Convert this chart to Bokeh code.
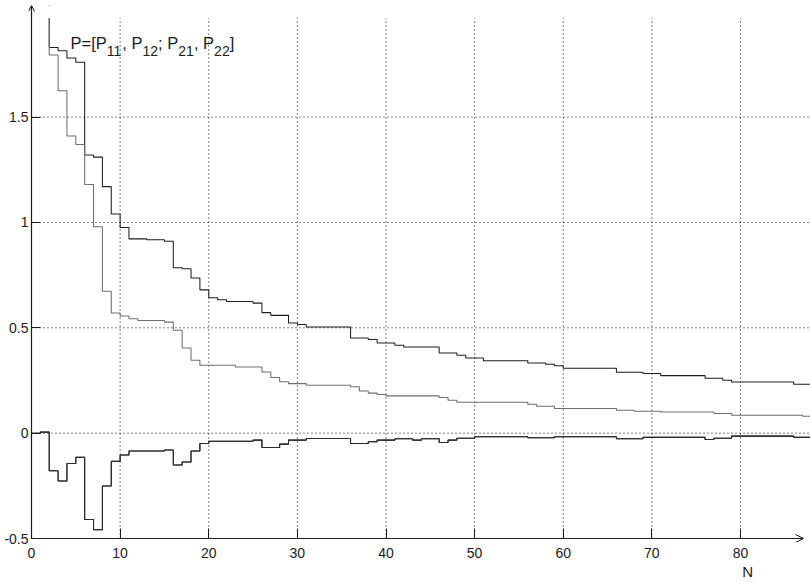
from bokeh.plotting import figure
from bokeh.models import Range1d, FixedTicker, Arrow, OpenHead, Label, LinearAxis
from bokeh.embed import file_html
from bokeh.resources import INLINE

# ---------------- data ----------------
n_from0 = list(range(0, 89))
n_from1 = list(range(1, 89))

p11 = [2.40, 1.83, 1.815, 1.78, 1.76, 1.32, 1.31, 1.17, 1.04, 0.976,
       0.922, 0.922, 0.918, 0.918, 0.911, 0.785, 0.78, 0.736, 0.68, 0.643,
       0.633, 0.625, 0.625, 0.625, 0.617, 0.572, 0.559, 0.559, 0.523, 0.516,
       0.504, 0.504, 0.504, 0.504, 0.504, 0.452, 0.452, 0.444, 0.428, 0.428,
       0.417, 0.409, 0.409, 0.409, 0.409, 0.38, 0.38, 0.37, 0.357, 0.357,
       0.344, 0.344, 0.344, 0.344, 0.344, 0.333, 0.333, 0.327, 0.32, 0.308,
       0.308, 0.308, 0.308, 0.308, 0.308, 0.289, 0.289, 0.289, 0.283, 0.283,
       0.273, 0.273, 0.273, 0.273, 0.273, 0.261, 0.261, 0.251, 0.243, 0.243,
       0.243, 0.243, 0.243, 0.243, 0.243, 0.232, 0.232, 0.232]

p22 = [2.20, 1.795, 1.625, 1.41, 1.37, 1.18, 0.98, 0.673, 0.57, 0.556,
       0.543, 0.535, 0.535, 0.535, 0.527, 0.488, 0.404, 0.346, 0.322, 0.322,
       0.322, 0.322, 0.314, 0.314, 0.314, 0.29, 0.264, 0.244, 0.235, 0.235,
       0.227, 0.227, 0.227, 0.227, 0.227, 0.22, 0.2, 0.19, 0.183, 0.177,
       0.177, 0.177, 0.177, 0.177, 0.177, 0.169, 0.156, 0.147, 0.147, 0.147,
       0.147, 0.147, 0.147, 0.147, 0.147, 0.137, 0.128, 0.128, 0.117, 0.117,
       0.117, 0.117, 0.117, 0.117, 0.117, 0.109, 0.109, 0.104, 0.104, 0.104,
       0.1, 0.1, 0.1, 0.1, 0.1, 0.1, 0.093, 0.093, 0.085, 0.085,
       0.085, 0.085, 0.085, 0.085, 0.085, 0.085, 0.08, 0.08]

p12 = [0.0, 0.005, -0.178, -0.227, -0.144, -0.115, -0.41, -0.458, -0.251, -0.134,
       -0.104, -0.085, -0.085, -0.085, -0.085, -0.08, -0.151, -0.137, -0.085, -0.049,
       -0.038, -0.038, -0.038, -0.038, -0.038, -0.033, -0.068, -0.068, -0.052, -0.033,
       -0.033, -0.025, -0.025, -0.025, -0.025, -0.025, -0.049, -0.049, -0.041, -0.033,
       -0.033, -0.027, -0.027, -0.033, -0.027, -0.027, -0.044, -0.033, -0.024, -0.024,
       -0.017, -0.017, -0.017, -0.017, -0.017, -0.017, -0.022, -0.022, -0.022, -0.017,
       -0.017, -0.017, -0.017, -0.017, -0.017, -0.017, -0.027, -0.027, -0.027, -0.02,
       -0.02, -0.02, -0.02, -0.02, -0.02, -0.02, -0.03, -0.024, -0.024, -0.014,
       -0.014, -0.014, -0.014, -0.014, -0.014, -0.014, -0.02, -0.02, -0.02]
p21 = p12

x_ticks = [0, 10, 20, 30, 40, 50, 60, 70, 80]
y_ticks = [-0.5, 0, 0.5, 1, 1.5]
y_tick_labels = {-0.5: "-0.5", 0: "0", 0.5: "0.5", 1: "1", 1.5: "1.5"}
x_grid = [10, 20, 30, 40, 50, 60, 70, 80]
y_grid = [0, 0.5, 1, 1.5]
x_name_pos = 80.8
y_top_visible = 1.97

# ---------------- layout ----------------
W, H = 810, 582
SX, SY = 8.8625, 211.5          # px per data unit
AX0, AY0 = 31, 540              # pixel of the axes origin (0, -0.5)
FL, FR, FT, FB = 28, 810, 5, 544
X0 = 0 - (AX0 - FL) / SX
X1 = 0 + (FR - AX0) / SX
Y0 = -0.5 - (FB - AY0) / SY
Y1 = -0.5 + (AY0 - FT) / SY


def dx(px):
    return (px - AX0) / SX


def dy(py):
    return -0.5 + (AY0 - py) / SY


FONT = "Liberation Sans"
INK = "#1c1c1c"

p = figure(width=W, height=H, output_backend="svg", toolbar_location=None,
           x_range=Range1d(X0, X1), y_range=Range1d(Y0, Y1),
           min_border_left=FL, min_border_right=W - FR,
           min_border_top=FT, min_border_bottom=H - FB)
p.outline_line_color = None
p.background_fill_color = "white"
p.border_fill_color = "white"
p.xgrid.visible = False
p.ygrid.visible = False

xa, ya = p.xaxis[0], p.yaxis[0]
for ax in (xa, ya):
    ax.axis_line_color = None
    ax.major_tick_line_color = INK
    ax.minor_tick_line_color = None
    ax.major_label_text_font = FONT
    ax.major_label_text_color = INK
    ax.major_label_text_font_size = "14px"
xa.ticker = FixedTicker(ticks=x_ticks)
xa.major_tick_in = 14
xa.major_tick_out = -4
xa.major_label_standoff = 5
ya.ticker = FixedTicker(ticks=y_ticks)
ya.major_tick_in = 12
ya.major_tick_out = -3
ya.major_label_standoff = 0
ya.major_label_overrides = y_tick_labels

# axis name "N" placed under the 80 tick
name_axis = LinearAxis(ticker=FixedTicker(ticks=[x_name_pos]),
                       major_label_overrides={x_name_pos: "N"},
                       axis_line_color=None, major_tick_line_color=None,
                       minor_tick_line_color=None, major_tick_out=0, major_tick_in=0,
                       major_label_standoff=2, major_label_text_font=FONT,
                       major_label_text_font_size="15px", major_label_text_color=INK)
p.add_layout(name_axis, "below")

# dotted grid, drawn inside the axes only
p.segment(x0=x_grid, y0=[-0.5] * len(x_grid), x1=x_grid, y1=[y_top_visible] * len(x_grid),
          line_color="black", line_dash="1 3", line_width=1)
p.segment(x0=[0] * len(y_grid), y0=y_grid, x1=[X1] * len(y_grid), y1=y_grid,
          line_color="black", line_dash="1 3", line_width=1)

p.step(n_from1, p11, mode="after", line_color="#1e1e1e", line_width=1.05)
p.step(n_from1, p22, mode="after", line_color="#6e6e6e", line_width=1.05)
p.step(n_from0, p12, mode="after", line_color="#2a2a2a", line_width=1.05)
p.step(n_from0, p21, mode="after", line_color="#2a2a2a", line_width=1.05)

# white mask above the visible top of the plot area (values there are cut off)
p.quad(left=[X0], right=[X1], bottom=[y_top_visible], top=[Y1], fill_color="white", line_color=None)

# axes with arrow heads
p.add_layout(Arrow(end=OpenHead(size=6, line_color=INK, line_width=1),
                   x_start=0, y_start=-0.5, x_end=0, y_end=dy(5),
                   line_color=INK, line_width=1.2))
p.add_layout(Arrow(end=OpenHead(size=8, line_color=INK, line_width=1),
                   x_start=0, y_start=-0.5, x_end=dx(803), y_end=-0.5,
                   line_color=INK, line_width=1.2))

# annotation P=[P11, P12; P21, P22]
pieces = [("P=[P", 70.0, False), ("11", 106.2, True), (", P", 121.8, False),
          ("12", 142.0, True), ("; P", 157.6, False), ("21", 177.8, True),
          (", P", 193.4, False), ("22", 213.6, True), ("]", 229.2, False)]
for txt, px, sub in pieces:
    p.add_layout(Label(x=dx(px), y=dy(51 if sub else 43), text=txt,
                       text_align="left", text_baseline="alphabetic",
                       text_font=FONT, text_font_size="14px" if sub else "16.5px",
                       text_color=INK))

open("out.html", "w").write(file_html(p, INLINE))
